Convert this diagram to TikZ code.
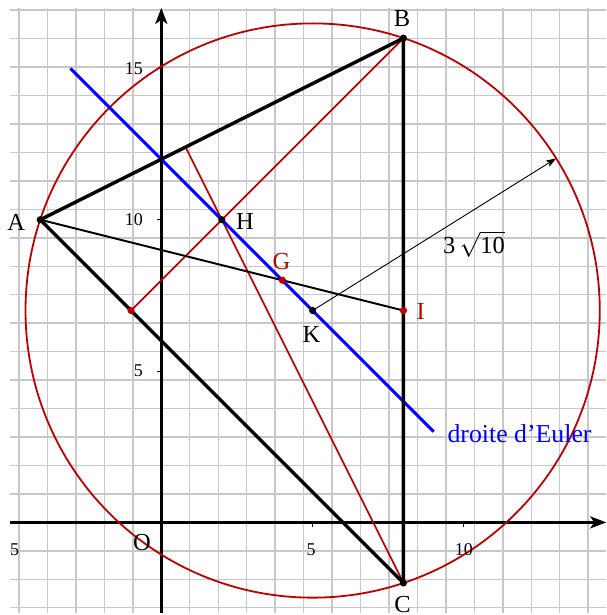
\documentclass[tikz,border=0pt]{standalone}
\usepackage{fontspec}
\setmainfont{Liberation Serif}
\usetikzlibrary{arrows.meta}
\definecolor{gridgray}{RGB}{200,200,200}
\definecolor{dred}{RGB}{190,0,0}
\begin{document}
\begin{tikzpicture}[x=30.26pt,y=30.26pt,
  gridline/.style={draw=gridgray, line width=1.4pt},
  axis/.style={line width=2.6pt, -{Stealth[length=16pt,width=12pt,inset=4pt]}},
  tick/.style={line width=1pt},
  tri/.style={line width=3.4pt},
  thinline/.style={line width=1.9pt},
  redline/.style={draw=dred, line width=1.7pt},
  circ/.style={draw=dred, line width=1.8pt},
  euler/.style={draw=blue, line width=3pt},
  radarrow/.style={line width=0.9pt, -{Stealth[length=10pt,width=7pt,inset=2pt]}},
  lab/.style={inner sep=0pt, font=\fontsize{24.5}{28}\selectfont},
  eulab/.style={inner sep=0pt, font=\fontsize{25.8}{29}\selectfont},
  numlab/.style={inner sep=0pt, font=\fontsize{18}{20}\selectfont},
  bdot/.style={fill=black},
  rdot/.style={fill=dred}]
\useasboundingbox (-5.33,-3.06) rectangle (14.70,17.26);
% grid
\draw[gridline] (-5,-3) grid (14.7,17);
% axes
\draw[axis] (-5,0) -- (14.7,0);
\draw[axis] (0,-3) -- (0,17);
\foreach \k in {5,10} \draw[tick] (\k,0) -- (\k,-0.15);
\foreach \k in {5,10,15} \draw[tick] (0,\k) -- (-0.15,\k);
% points
\coordinate (A) at (-4,10);
\coordinate (B) at (8,16);
\coordinate (C) at (8,-2);
\coordinate (H) at (2,10);
\coordinate (G) at (4,8);
\coordinate (K) at (5,7);
\coordinate (I) at (8,7);
\coordinate (HB) at (-1,7);
\coordinate (HC) at (0.8,12.4);
\coordinate (E1) at (-3,15);
\coordinate (E2) at (9,3);
\coordinate (R) at (13.045,12.027);
% circumcircle
\draw[circ] (K) circle (9.4868);
% altitudes
\draw[redline] (HB) -- (B);
\draw[redline] (HC) -- (C);
% Euler line
\draw[euler] (E1) -- (E2);
% triangle
\draw[tri, line join=round] (A) -- (B) -- (C) -- cycle;
% median
\draw[thinline] (A) -- (I);
% radius arrow
\draw[radarrow] (K) -- (R);
% dots
\foreach \p in {A,B,C,H,K} \fill[bdot] (\p) circle (3.6pt);
\foreach \p in {G,I,HB} \fill[rdot] (\p) circle (3.6pt);
% labels
\node[lab] (lA) at (-4.79,9.91) {A};
\node[lab] (lB) at (7.95,16.64) {B};
\node[lab] (lC) at (7.97,-2.70) {C};
\node[lab] (lH) at (2.76,9.95) {H};
\node[lab, text=dred] (lG) at (3.97,8.63) {G};
\node[lab] (lK) at (4.96,6.22) {K};
\node[lab, text=dred] (lI) at (8.57,6.97) {I};
\node[lab] (lO) at (-0.64,-0.68) {O};
\node[lab] (lr) at (10.33,9.19) {$\mbox{3}\,\sqrt{\mbox{10}}$};
\node[eulab, text=blue, anchor=base west] (le) at (9.45,2.64) {droite d’Euler};
\node[numlab] (x1) at (-4.85,-0.9) {5};
\node[numlab] (x2) at (4.95,-0.9) {5};
\node[numlab] (x3) at (10,-0.9) {10};
\node[numlab, anchor=east] (y1) at (-0.6,5) {5};
\node[numlab, anchor=east] (y2) at (-0.6,10) {10};
\node[numlab, anchor=east] (y3) at (-0.6,15) {15};
\end{tikzpicture}
\end{document}
